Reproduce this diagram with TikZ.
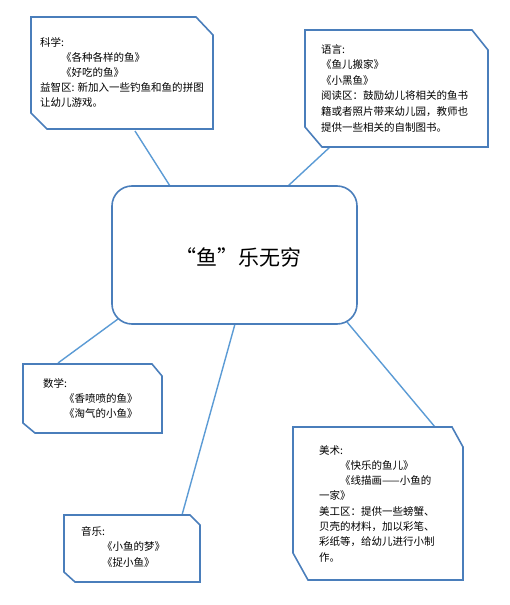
\documentclass[tikz,border=0pt]{standalone}
\usepackage{fontspec}
\newfontfamily\cjk{Noto Sans CJK SC}
\definecolor{edge}{HTML}{4A7EBB}
\definecolor{link}{HTML}{5B9BD5}
\begin{document}
\begin{tikzpicture}[x=1bp,y=-1bp,
  box/.style={draw=edge,line width=1.6bp,line join=miter,fill=white},
  conn/.style={draw=link,line width=1.4bp},
  txt/.style={anchor=north west,inner sep=0pt,align=left,font=\cjk\fontsize{10.5bp}{#1}\selectfont},
  txt/.default={15.5bp}]
\useasboundingbox[fill=white] (0,0) rectangle (510,605);

% connector end points
\coordinate (m1) at (170,186);
\coordinate (m2) at (288,186);
\coordinate (m3) at (118,319);
\coordinate (m4) at (235,324);
\coordinate (m5) at (347,322);
\coordinate (b1) at (135,131);
\coordinate (b2) at (330,147);
\coordinate (b3) at (58,363);
\coordinate (b4) at (182,515);
\coordinate (b5) at (435,427);

\draw[conn] (b1) -- (m1);
\draw[conn] (b2) -- (m2);
\draw[conn] (b3) -- (m3);
\draw[conn] (b4) -- (m4);
\draw[conn] (b5) -- (m5);

% central node
\node[draw=edge,line width=1.6bp,fill=white,rounded corners=20bp,
      minimum width=245bp,minimum height=138bp,inner sep=0pt] (main) at (234.5,255) {};
\node[font=\cjk\fontsize{21bp}{25bp}\selectfont,inner sep=0pt] (title) at (238,258) {“鱼”乐无穷};

% boxes
\draw[box] (31,17) -- (196,17) -- (213,35) -- (213,129) -- (47,129) -- (31,113) -- cycle;
\draw[box] (305,30) -- (472,30) -- (488,50) -- (488,147) -- (322,147) -- (305,127) -- cycle;
\draw[box] (23,364) -- (152,364) -- (162,376) -- (162,433) -- (35,433) -- (23,423) -- cycle;
\draw[box] (64,515) -- (190,515) -- (200,525) -- (200,582) -- (75,582) -- (64,572) -- cycle;
\draw[box] (293,427) -- (452,427) -- (463,447) -- (463,580) -- (308,580) -- (293,553) -- cycle;

% texts
\node[txt=15bp] (t1) at (40,37) {科学:\\
\hspace*{2em}《各种各样的鱼》\\
\hspace*{2em}《好吃的鱼》\\
益智区: 新加入一些钓鱼和鱼的拼图\\
让幼儿游戏。};

\node[txt=15.6bp] (t2) at (321,44) {语言:\\
《鱼儿搬家》\\
《小黑鱼》\\
阅读区：鼓励幼儿将相关的鱼书\\
籍或者照片带来幼儿园，教师也\\
提供一些相关的自制图书。};

\node[txt=15bp] (t3) at (43,378) {数学:\\
\hspace*{2em}《香喷喷的鱼》\\
\hspace*{2em}《淘气的小鱼》};

\node[txt=15.5bp] (t4) at (81,526) {音乐:\\
\hspace*{2em}《小鱼的梦》\\
\hspace*{2em}《捉小鱼》};

\node[txt=15.3bp] (t5) at (319,445) {美术:\\
\hspace*{2em}《快乐的鱼儿》\\
\hspace*{2em}《线描画——小鱼的\\
一家》\\
美工区：提供一些螃蟹、\\
贝壳的材料，加以彩笔、\\
彩纸等，给幼儿进行小制\\
作。};
\end{tikzpicture}
\end{document}
